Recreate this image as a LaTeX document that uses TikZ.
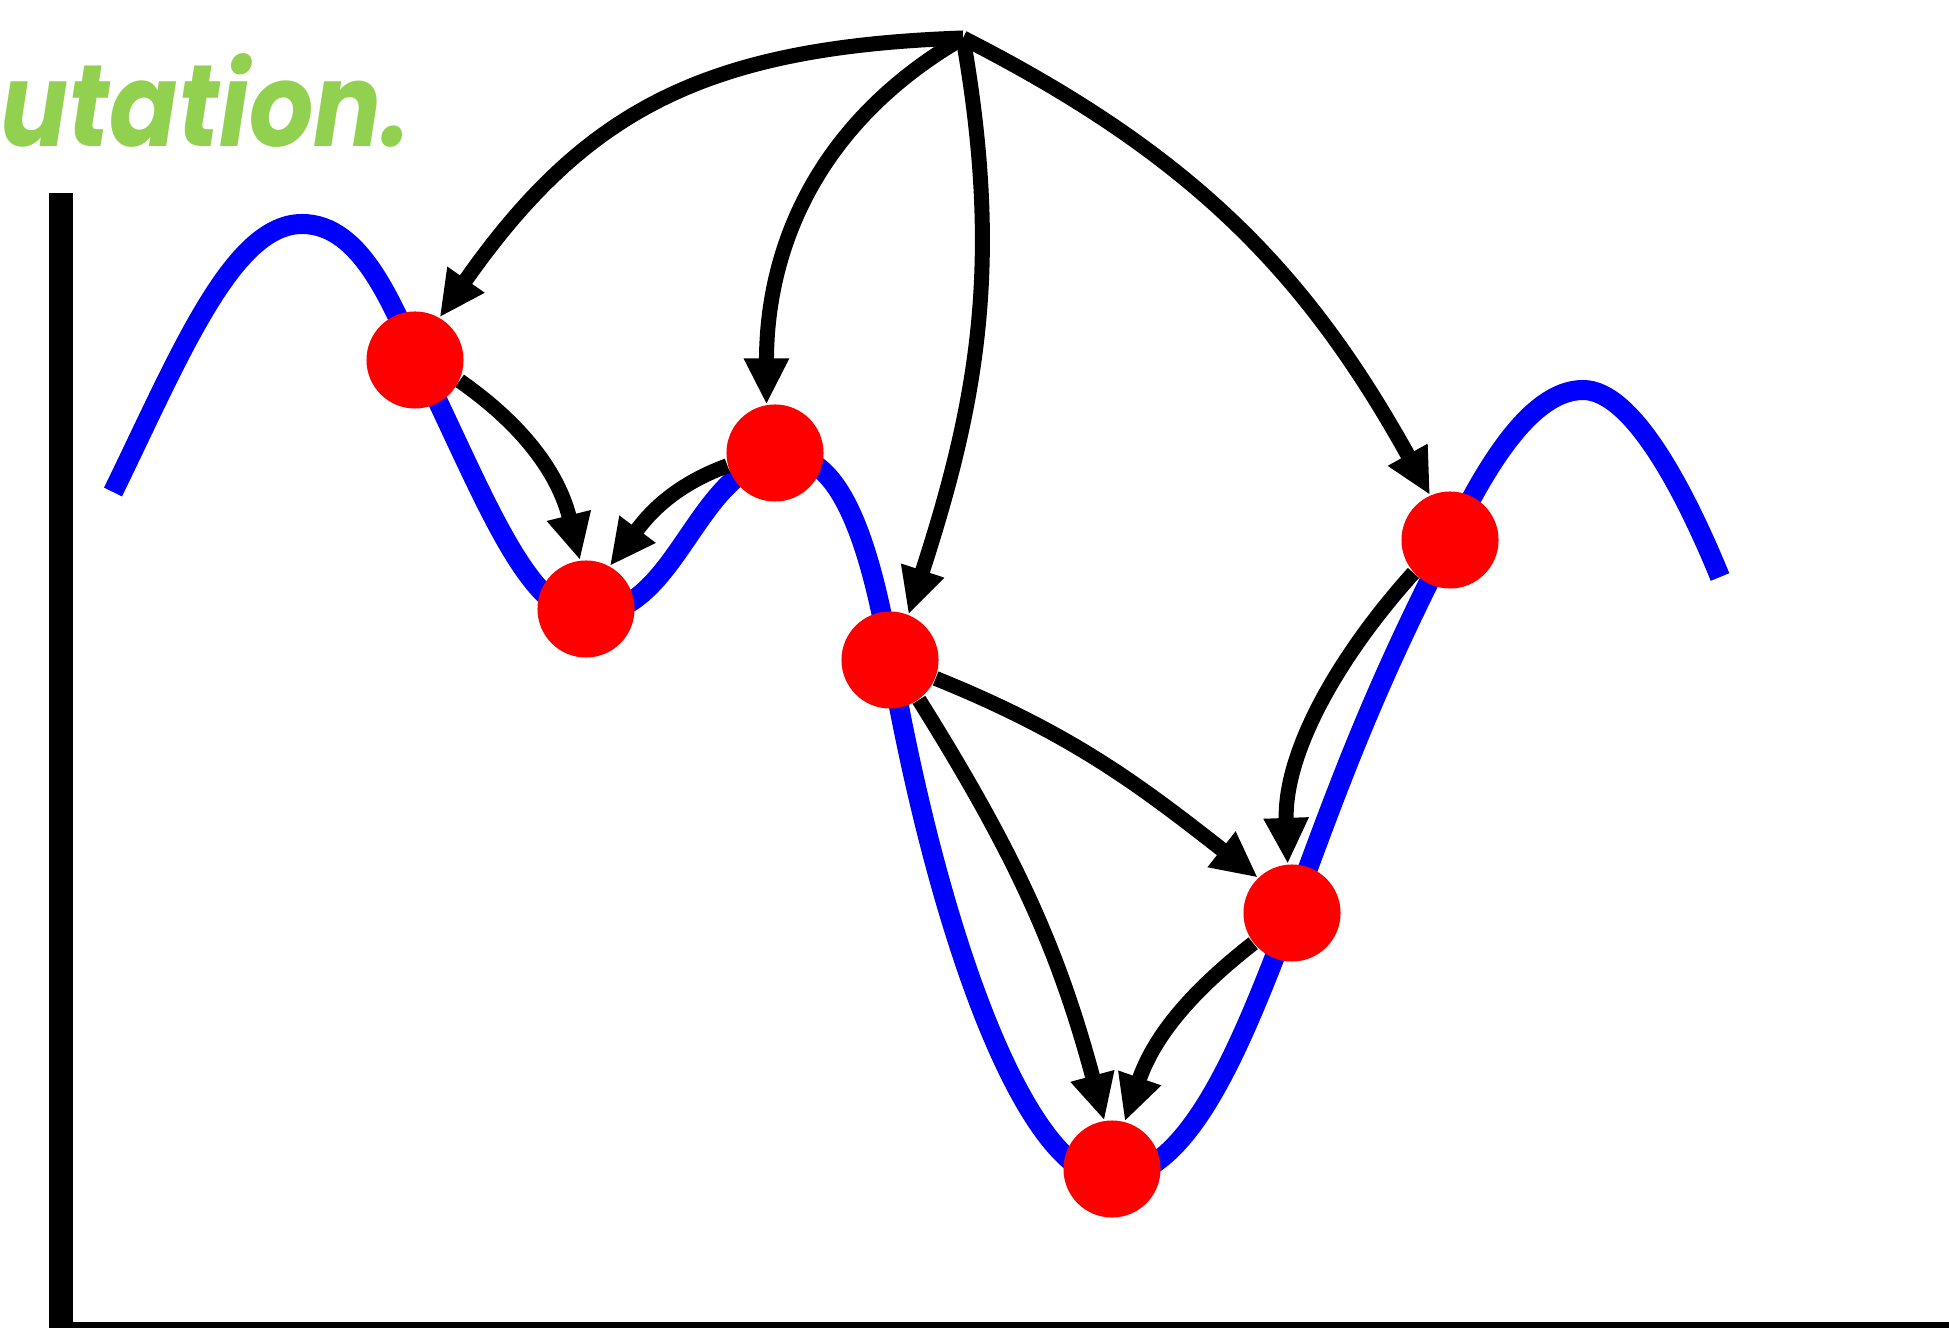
\documentclass[tikz,border=0pt]{standalone}
\usepackage{fontspec}
\usepackage{tikz}
\usetikzlibrary{arrows.meta}
\newfontfamily\headfont{Poppins}
\definecolor{headgreen}{RGB}{146,208,80}

\begin{document}
\begin{tikzpicture}[x=0.01cm, y=0.01cm,
                    curve/.style={line width=0.2cm, blue},
                    pt/.style={circle, fill=red, minimum size=0.97cm, inner sep=0pt},
                    jump/.style={line width=0.15cm, -{Triangle[length=0.46cm, width=0.42cm]}}]
                    \useasboundingbox (0,0) rectangle (1949,1327);

                    % 标题（左侧被截断）
                    \node[anchor=base west, inner sep=0pt, text=headgreen,
                          font=\headfont\bfseries\itshape\fontsize{33}{33}\selectfont] (title) at (0,1180) {\scalebox{0.87}[1]{utation.}};

                    % 绘制坐标轴
                    \draw[line width=0.23cm] (61,1134) -- (61,-10);
                    \draw[line width=0.22cm] (50,-6) -- (1960,-6);

                    % 绘制目标函数曲线
                    \draw[curve] (113,835) .. controls (179,970) and (232,1103) .. (302,1103)
                                 .. controls (362,1103) and (392,1021) .. (418,967)
                                 .. controls (484,832) and (527,712) .. (587,712)
                                 .. controls (682,712) and (695,870) .. (790,870)
                                 .. controls (845,870) and (873,767) .. (890,669)
                                 .. controls (942,374) and (1030,149) .. (1110,149)
                                 .. controls (1190,149) and (1242,284) .. (1292,415)
                                 to[out=70,in=243] (1450,787)
                                 .. controls (1481,850) and (1528,937) .. (1583,937)
                                 .. controls (1633,937) and (1686,833) .. (1720,750);

                    % 采样点
                    \node[pt] (a) at (415,967) {};
                    \node[pt] (b) at (586,718) {};
                    \node[pt] (c) at (775,874) {};
                    \node[pt] (d) at (890,667) {};
                    \node[pt] (e) at (1450,787) {};
                    \node[pt] (f) at (1292,414) {};
                    \node[pt] (g) at (1112,158) {};
                    \coordinate (top) at (963,1289);

                    % 从顶点出发的跳转
                    \draw[jump] (top) to[out=182,in=55,looseness=1.1] (a.60);
                    \draw[jump] (top) to[out=210,in=90] (c.100);
                    \draw[jump] (top) to[out=-80,in=72] (d.68);
                    \draw[jump] (top) to[out=-27,in=119] (e.114);

                    % 局部下降
                    \draw[jump] (a.-25) to[out=-35,in=104] (b.97);
                    \draw[jump] (c.195) to[out=200,in=53] (b.61);
                    \draw[jump] (d.-22) to[out=-22,in=142] (f.134);
                    \draw[jump] (d.-54) to[out=-58,in=105] (g.99);
                    \draw[jump] (e.222) to[out=228,in=92,looseness=0.9] (f.95);
                    \draw[jump] (f.218) to[out=218,in=71] (g.75);
                \end{tikzpicture}
\end{document}
